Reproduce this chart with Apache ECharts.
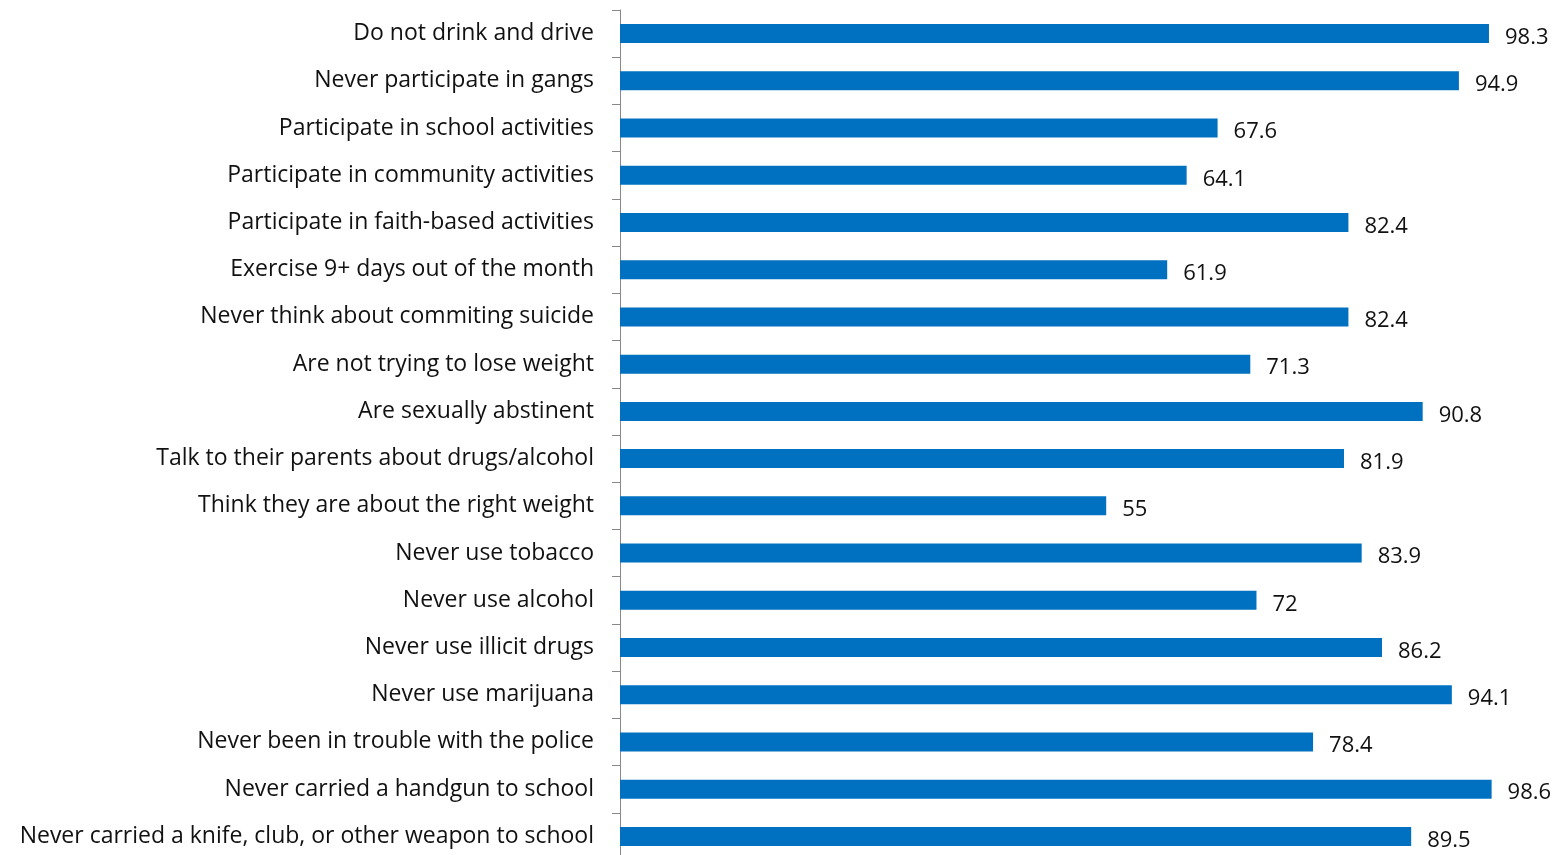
<!DOCTYPE html>
<html>
<head>
<meta charset="utf-8">
<script src="https://cdn.jsdelivr.net/npm/echarts@6/dist/echarts.min.js"></script>
<style>
html,body{margin:0;padding:0;background:#fff;overflow:hidden;}
#chart{width:1566px;height:860px;}
</style>
</head>
<body>
<div id="chart"></div>
<script>
const categories = [
  "Do not drink and drive",
  "Never participate in gangs",
  "Participate in school activities",
  "Participate in community activities",
  "Participate in faith-based activities",
  "Exercise 9+ days out of the month",
  "Never think about commiting suicide",
  "Are not trying to lose weight",
  "Are sexually abstinent",
  "Talk to their parents about drugs/alcohol",
  "Think they are about the right weight",
  "Never use tobacco",
  "Never use alcohol",
  "Never use illicit drugs",
  "Never use marijuana",
  "Never been in trouble with the police",
  "Never carried a handgun to school",
  "Never carried a knife, club, or other weapon to school"
];
const values = [98.3, 94.9, 67.6, 64.1, 82.4, 61.9, 82.4, 71.3, 90.8, 81.9, 55, 83.9, 72, 86.2, 94.1, 78.4, 98.6, 89.5];

const chart = echarts.init(document.getElementById('chart'));
const FONT = '"Open Sans", sans-serif';
chart.setOption({
  animation: false,
  grid: { left: 620, right: 62, top: 10, bottom: 0, containLabel: false },
  xAxis: {
    type: 'value', min: 0, max: 100, show: false
  },
  yAxis: {
    type: 'category', data: categories, inverse: true,
    axisLine: { show: true, lineStyle: { color: '#888888', width: 1 } },
    axisTick: { show: true, length: 8, lineStyle: { color: '#888888' } },
    axisLabel: { margin: 26, fontSize: 23, color: '#111111', fontFamily: FONT, padding: [0, 0, -4, 0] }
  },
  series: [{
    type: 'bar', data: values, barWidth: 19,
    itemStyle: { color: '#0070C0' },
    label: { show: true, position: 'right', distance: 16, fontSize: 22, color: '#111111', fontFamily: FONT, offset: [0, 4] }
  }]
});
</script>
</body>
</html>
